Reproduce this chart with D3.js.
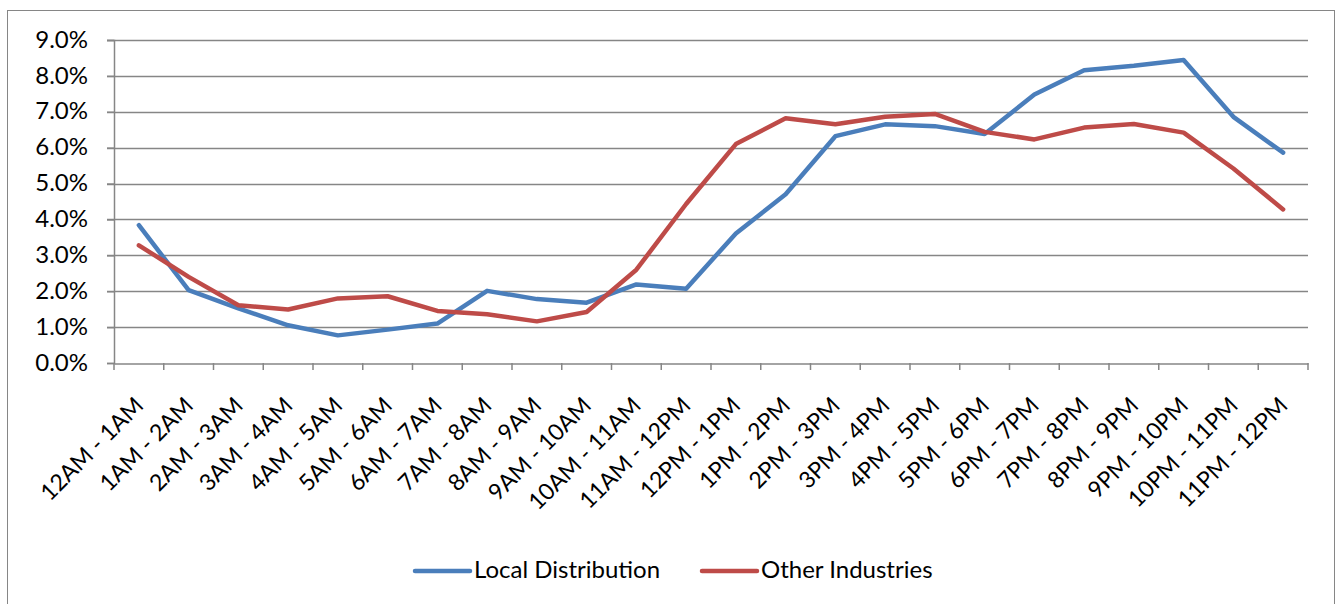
<!DOCTYPE html>
<html>
<head>
<meta charset="utf-8">
<script src="https://cdn.jsdelivr.net/npm/d3@7"></script>
<style>
  html, body { margin: 0; padding: 0; background: #fff; }
  svg { display: block; }
  text { font-family: Lato, "Open Sans", sans-serif; fill: #000; }
</style>
</head>
<body>
<svg id="chart" width="1336" height="604"></svg>
<script>
const categories = ["12AM - 1AM","1AM - 2AM","2AM - 3AM","3AM - 4AM","4AM - 5AM","5AM - 6AM","6AM - 7AM","7AM - 8AM","8AM - 9AM","9AM - 10AM","10AM - 11AM","11AM - 12PM","12PM - 1PM","1PM - 2PM","2PM - 3PM","3PM - 4PM","4PM - 5PM","5PM - 6PM","6PM - 7PM","7PM - 8PM","8PM - 9PM","9PM - 10PM","10PM - 11PM","11PM - 12PM"];
const localDistribution = [3.84,2.03,1.52,1.05,0.77,0.93,1.10,2.01,1.78,1.68,2.19,2.07,3.61,4.70,6.32,6.65,6.60,6.38,7.48,8.16,8.28,8.44,6.86,5.86];
const otherIndustries = [3.28,2.40,1.61,1.49,1.80,1.86,1.45,1.36,1.16,1.42,2.60,4.43,6.10,6.82,6.65,6.86,6.94,6.44,6.23,6.56,6.66,6.42,5.42,4.28];
const yTicks = [0,1,2,3,4,5,6,7,8,9];
const seriesNames = ["Local Distribution","Other Industries"];

const colors = ["#4a7ebb","#be4b48"];
const gridColor = "#868686";

const svg = d3.select("#chart");
svg.append("rect").attr("x",7.5).attr("y",10.5).attr("width",1327).attr("height",600)
  .attr("fill","none").attr("stroke",gridColor).attr("stroke-width",1);

const pLeft = 114, pRight = 1308, pTop = 40, pBottom = 363;
const x = d3.scaleBand().domain(categories).range([pLeft,pRight]).padding(0);
const y = d3.scaleLinear().domain([0,9]).range([pBottom,pTop]);

svg.append("g").selectAll("line").data(yTicks.filter(d=>d>0)).join("line")
  .attr("x1",pLeft-7).attr("x2",pRight).attr("y1",d=>Math.round(y(d))+0.5).attr("y2",d=>Math.round(y(d))+0.5)
  .attr("stroke",gridColor).attr("stroke-width",1.5);

const yAxis = svg.append("g").attr("transform",`translate(${pLeft},0)`)
  .call(d3.axisLeft(y).tickValues(yTicks).tickSize(7).tickPadding(19).tickFormat(d=>d.toFixed(1)+"%"));
yAxis.select(".domain").attr("stroke",gridColor).attr("stroke-width",1.5);
yAxis.selectAll(".tick line").attr("stroke",gridColor).attr("stroke-width",1.5);
yAxis.selectAll("text").attr("font-size",24).attr("font-family","Lato, 'Open Sans', sans-serif").attr("fill","#000").attr("dy","0.3em");

const xAxis = svg.append("g").attr("transform",`translate(0,${Math.round(y(0))+0.5})`)
  .call(d3.axisBottom(x).tickSize(0).tickFormat(""));
xAxis.select(".domain").attr("stroke",gridColor).attr("stroke-width",1.5);
xAxis.selectAll(".tick").remove();
const bounds = categories.map(c=>x(c)).concat([pRight]);
svg.append("g").selectAll("line").data(bounds).join("line")
  .attr("x1",d=>d).attr("x2",d=>d).attr("y1",pBottom).attr("y2",pBottom+7)
  .attr("stroke",gridColor).attr("stroke-width",1.5);
svg.append("g").selectAll("text").data(categories).join("text")
  .attr("transform",d=>`translate(${x(d)+x.bandwidth()/2+6},${pBottom+44}) rotate(-45)`)
  .attr("text-anchor","end").attr("font-size",23)
  .text(d=>d);

const line = d3.line().x((d,i)=>x(categories[i])+x.bandwidth()/2).y(d=>y(d));
[localDistribution, otherIndustries].forEach((s,k)=>{
  svg.append("path").datum(s).attr("d",line).attr("fill","none")
    .attr("stroke",colors[k]).attr("stroke-width",4.5).attr("stroke-linejoin","round").attr("stroke-linecap","round");
});

const legendItems = [{x:415, name:seriesNames[0], c:colors[0]},{x:702, name:seriesNames[1], c:colors[1]}];
const lg = svg.append("g");
legendItems.forEach(it=>{
  lg.append("line").attr("x1",it.x).attr("x2",it.x+55).attr("y1",571).attr("y2",571)
    .attr("stroke",it.c).attr("stroke-width",4.5).attr("stroke-linecap","round");
  lg.append("text").attr("x",it.x+59).attr("y",578).attr("font-size",24).text(it.name);
});
</script>
</body>
</html>
